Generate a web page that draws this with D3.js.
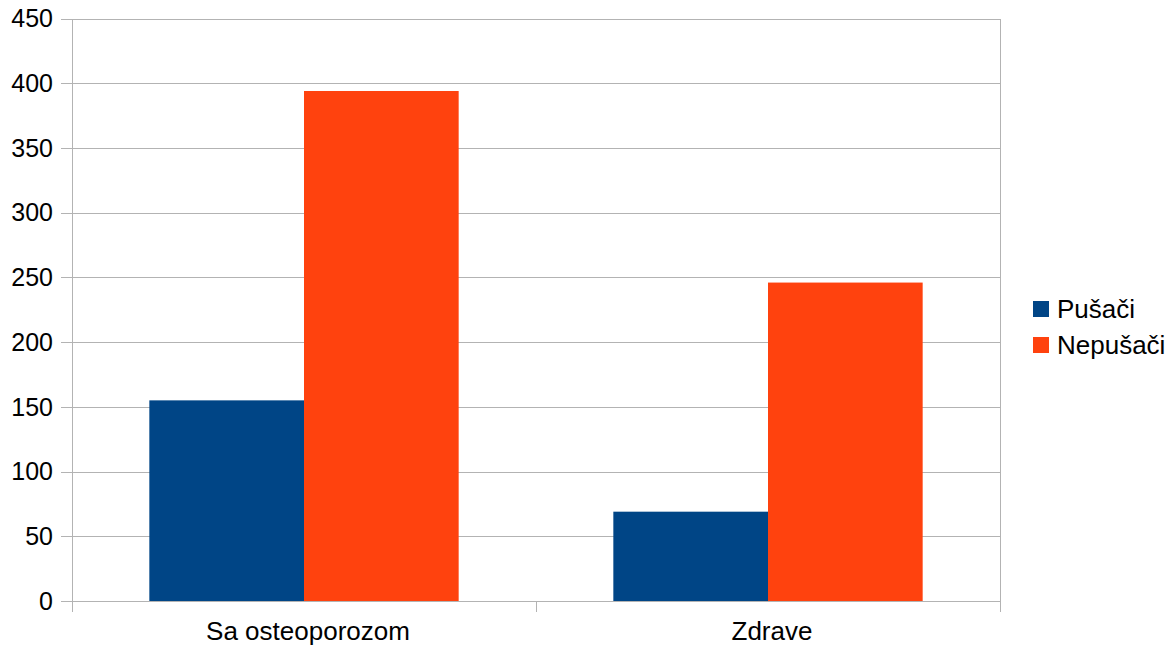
<!DOCTYPE html>
<html>
<head>
<meta charset="utf-8">
<script src="https://cdn.jsdelivr.net/npm/d3@7"></script>
<style>
  body { margin: 0; background: #fff; }
  text { font-family: "Liberation Sans", Arial, sans-serif; fill: #000; }
</style>
</head>
<body>
<div id="wrapper"></div>
<script>
// data
const categories = ["Sa osteoporozom", "Zdrave"];
const seriesNames = ["Pušači", "Nepušači"];
const pusaci = [155, 69];
const nepusaci = [394, 246];
const yTicks = [0, 50, 100, 150, 200, 250, 300, 350, 400, 450];
const colors = ["#004586", "#ff420e"];

function buildChart() {
    const width = 1173, height = 647;
    const plot = { left: 72, right: 1000, top: 18.5, bottom: 601 };

    const svg = d3.select("#wrapper").append("svg")
        .attr("width", width)
        .attr("height", height);

    const y = d3.scaleLinear().domain([0, 450]).range([plot.bottom, plot.top]);
    const x0 = d3.scaleBand().domain(categories).range([plot.left, plot.right]).padding(0);
    const x1 = d3.scaleBand().domain(seriesNames).range([0, x0.bandwidth()])
        .paddingInner(0).paddingOuter(0.5);

    // gridlines
    svg.append("g").selectAll("line")
        .data(yTicks)
        .enter()
        .append("line")
        .attr("x1", plot.left - 11)
        .attr("x2", plot.right)
        .attr("y1", d => Math.round(y(d)) + 0.5)
        .attr("y2", d => Math.round(y(d)) + 0.5)
        .attr("stroke", "#b3b3b3")
        .attr("stroke-width", 1);

    // right border
    svg.append("line")
        .attr("x1", plot.right + 0.5).attr("x2", plot.right + 0.5)
        .attr("y1", Math.round(y(450))).attr("y2", plot.bottom)
        .attr("stroke", "#b3b3b3");

    // y labels
    svg.append("g").selectAll("text")
        .data(yTicks)
        .enter()
        .append("text")
        .attr("x", plot.left - 19)
        .attr("y", d => y(d))
        .attr("dy", "0.35em")
        .attr("text-anchor", "end")
        .style("font-size", "25px")
        .text(d => d);

    // bars
    const rows = categories.map((c, i) => ({ cat: c, values: [pusaci[i], nepusaci[i]] }));
    const groups = svg.append("g").selectAll("g")
        .data(rows)
        .enter()
        .append("g")
        .attr("transform", d => `translate(${x0(d.cat)},0)`);

    groups.selectAll("rect")
        .data(d => d.values.map((v, j) => ({ name: seriesNames[j], value: v, j: j })))
        .enter()
        .append("rect")
        .attr("x", d => x1(d.name))
        .attr("width", x1.bandwidth())
        .attr("y", d => y(d.value))
        .attr("height", d => y(0) - y(d.value))
        .attr("fill", d => colors[d.j]);

    // x axis line and ticks
    svg.append("line")
        .attr("x1", plot.left).attr("x2", plot.right)
        .attr("y1", Math.round(y(0)) + 0.5).attr("y2", Math.round(y(0)) + 0.5)
        .attr("stroke", "#b3b3b3");

    const xTickPos = [plot.left, x0(categories[1]), plot.right];
    svg.append("g").selectAll("line")
        .data(xTickPos)
        .enter()
        .append("line")
        .attr("x1", d => Math.round(d) + 0.5)
        .attr("x2", d => Math.round(d) + 0.5)
        .attr("y1", (d, i) => i === 0 ? Math.round(y(450)) : plot.bottom)
        .attr("y2", plot.bottom + 11)
        .attr("stroke", "#b3b3b3");

    // category labels
    svg.append("g").selectAll("text")
        .data(categories)
        .enter()
        .append("text")
        .attr("x", d => x0(d) + x0.bandwidth() / 2 + 4)
        .attr("y", 640)
        .attr("text-anchor", "middle")
        .style("font-size", "26px")
        .text(d => d);

    // legend
    const legend = svg.append("g").selectAll("g")
        .data(seriesNames)
        .enter()
        .append("g")
        .attr("transform", (d, i) => `translate(1033,${301 + i * 36})`);

    legend.append("rect")
        .attr("width", 16)
        .attr("height", 16)
        .attr("fill", (d, i) => colors[i]);

    legend.append("text")
        .attr("x", 24)
        .attr("y", 8)
        .attr("dy", "0.35em")
        .style("font-size", "26px")
        .text(d => d);
}

buildChart();
</script>
</body>
</html>
